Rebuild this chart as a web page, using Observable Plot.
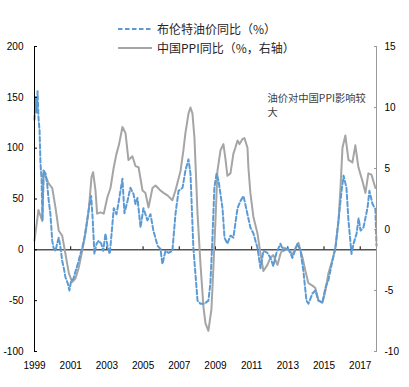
<!DOCTYPE html>
<html><head><meta charset="utf-8">
<script src="https://cdn.jsdelivr.net/npm/d3@7"></script>
<script src="https://cdn.jsdelivr.net/npm/@observablehq/plot@0.6"></script>
<style>
body{margin:0;background:#fff;}
#wrap{position:relative;width:409px;height:387px;overflow:hidden;}
.leg{position:absolute;left:118px;height:16px;display:flex;align-items:center;font-family:"Noto Sans CJK SC",sans-serif;font-size:12px;color:#262626;white-space:nowrap;}
.leg svg{margin-right:5px;}
</style></head>
<body><div id="wrap"></div>
<script>
// Brent crude YoY (%), left axis
const brentT = [1999.00,1999.06,1999.11,1999.17,1999.22,1999.28,1999.33,1999.39,1999.44,1999.50,1999.61,1999.70,1999.77,1999.88,1999.98,2000.05,2000.16,2000.25,2000.34,2000.44,2000.53,2000.62,2000.71,2000.84,2000.93,2001.03,2001.14,2001.27,2001.39,2001.54,2001.64,2001.76,2001.91,2002.04,2002.13,2002.22,2002.31,2002.43,2002.55,2002.69,2002.80,2002.92,2003.05,2003.16,2003.29,2003.38,2003.53,2003.66,2003.75,2003.86,2003.97,2004.14,2004.30,2004.47,2004.58,2004.69,2004.86,2005.02,2005.24,2005.41,2005.57,2005.80,2005.96,2006.07,2006.24,2006.40,2006.62,2006.79,2006.96,2007.18,2007.34,2007.51,2007.62,2007.78,2008.01,2008.17,2008.39,2008.61,2008.72,2008.83,2008.94,2009.06,2009.17,2009.39,2009.50,2009.66,2009.83,2009.99,2010.22,2010.38,2010.55,2010.77,2010.93,2011.10,2011.32,2011.49,2011.65,2011.87,2012.04,2012.20,2012.37,2012.59,2012.76,2012.98,2013.14,2013.25,2013.53,2013.70,2013.86,2014.03,2014.14,2014.36,2014.52,2014.69,2014.91,2015.08,2015.24,2015.46,2015.63,2015.80,2015.97,2016.08,2016.24,2016.35,2016.52,2016.63,2016.80,2016.91,2017.02,2017.18,2017.40,2017.51,2017.68,2017.84,2017.90];
const brentV = [128,150,135,156,130,117,85,70,29,78,75,65,51,35,9,2,-1,6,12,2,-11,-18,-27,-33,-40,-30,-29,-21,-14,-4,2,12,29,45,53,29,-4,6,9,6,-1,16,2,-4,22,41,35,48,58,70,36,48,61,55,45,51,22,41,29,35,19,4,1,-14,-1,-3,-1,35,58,61,78,89,75,2,-50,-53,-53,-50,-33,10,61,75,68,41,12,6,14,12,41,48,53,35,22,16,2,-18,-1,-3,-8,-16,-3,6,-1,2,-3,-8,6,-1,-21,-50,-53,-43,-40,-50,-52,-37,-30,-11,2,29,58,73,61,29,-4,6,16,31,19,22,41,58,45,40,4];
// China PPI YoY (%), right axis
const ppiT = [1999.00,1999.22,1999.43,1999.51,1999.61,1999.77,1999.98,2000.16,2000.34,2000.53,2000.71,2000.90,2001.08,2001.27,2001.45,2001.64,2001.82,2002.00,2002.15,2002.24,2002.37,2002.46,2002.65,2002.83,2003.02,2003.20,2003.38,2003.53,2003.66,2003.86,2004.03,2004.19,2004.41,2004.58,2004.75,2004.97,2005.13,2005.30,2005.52,2005.69,2005.96,2006.13,2006.35,2006.62,2006.79,2007.07,2007.23,2007.34,2007.51,2007.62,2007.73,2007.84,2008.01,2008.17,2008.34,2008.45,2008.61,2008.78,2008.89,2009.00,2009.11,2009.28,2009.44,2009.55,2009.66,2009.83,2009.99,2010.10,2010.22,2010.33,2010.49,2010.60,2010.77,2010.82,2010.93,2011.10,2011.32,2011.49,2011.65,2011.87,2012.04,2012.20,2012.43,2012.59,2012.76,2012.98,2013.14,2013.25,2013.42,2013.59,2013.81,2013.97,2014.14,2014.36,2014.52,2014.69,2014.91,2015.08,2015.24,2015.46,2015.63,2015.80,2015.91,2016.02,2016.18,2016.35,2016.57,2016.73,2016.90,2017.12,2017.29,2017.45,2017.62,2017.84];
const ppiV = [-0.9,1.6,0.7,4.8,4.4,3.8,3.4,1.8,-0.1,-0.5,-2.0,-3.6,-4.3,-4.0,-3.1,-1.7,-0.3,1.6,4.3,4.7,3.2,1.3,1.4,1.3,2.6,3.4,5.1,6.2,6.9,8.4,7.9,5.7,6.0,5.2,5.1,3.2,3.0,1.8,3.4,3.6,3.2,3.0,2.8,2.4,3.2,4.8,6.5,7.9,9.5,10.0,9.5,7.5,1.3,-2.8,-6.4,-7.7,-8.3,-6.5,-3.0,0.7,4.8,6.5,7.0,5.8,4.4,4.6,6.2,6.7,7.3,7.0,7.4,7.5,6.7,5.1,3.0,1.0,-0.3,-2.0,-3.4,-2.9,-2.3,-2.1,-2.9,-2.0,-1.5,-1.6,-1.8,-2.1,-1.5,-1.1,-2.3,-3.4,-4.4,-4.6,-4.8,-5.8,-6.0,-5.0,-3.6,-2.5,-1.5,0.7,3.4,6.7,7.7,5.7,5.5,6.9,5.1,4.0,3.0,4.6,4.5,3.4];

const xDomain = [1999, 2017.9];
const xTicks = [1999,2001,2003,2005,2007,2009,2011,2013,2015,2017];
const leftDomain = [-100, 200];
const leftTicks = [-100,-50,0,50,100,150,200];
const rightDomain = [-10, 15];
const rightTicks = [-10,-5,0,5,10,15];
const seriesNames = ["布伦特油价同比（%）", "中国PPI同比（%，右轴）"];
const noteLines = ["油价对中国PPI影响较", "大"];
const noteAt = {x: 2011.87, y: [148.9, 135.1]};

const blue = "#5b9bd5", gray = "#a5a5a5";
const dash = "4.5,2.5";
// map right-axis values onto the left scale
const k = (leftDomain[1]-leftDomain[0])/(rightDomain[1]-rightDomain[0]);
const toLeft = r => (r - rightDomain[0]) * k + leftDomain[0];

const brent = brentT.map((t,i)=>({t, v: brentV[i]}));
const ppi = ppiT.map((t,i)=>({t, v: ppiV[i]}));

const chart = Plot.plot({
  width: 409, height: 387,
  marginLeft: 34, marginRight: 33, marginTop: 46, marginBottom: 36,
  x: {domain: xDomain, label: null},
  y: {domain: leftDomain, label: null},
  style: {fontFamily: "'Liberation Sans', Arial, sans-serif", fontSize: "10px", color: "#000", background: "transparent"},
  marks: [
    Plot.ruleY([0], {stroke: "#000", strokeWidth: 1}),
    Plot.ruleX(xTicks, {y1: 0, y2: 3, stroke: "#000"}),
    Plot.line(ppi, {x: "t", y: d => toLeft(d.v), stroke: gray, strokeWidth: 2}),
    Plot.line(brent, {x: "t", y: "v", stroke: blue, strokeWidth: 2, strokeDasharray: dash}),
    Plot.ruleX([xDomain[0]], {y1: leftDomain[0], y2: leftDomain[1], stroke: "#000"}),
    Plot.ruleX([xDomain[1]], {y1: leftDomain[0], y2: leftDomain[1], stroke: "#9a9a9a"}),
    Plot.axisY(leftTicks, {anchor: "left", label: null, tickSize: -3, tickPadding: 14, tickFormat: d => String(d), stroke: "#000"}),
    Plot.axisY(rightTicks.map(toLeft), {anchor: "right", label: null, tickSize: -3, tickPadding: 11, stroke: "#9a9a9a", tickFormat: d => String(Math.round((d - leftDomain[0]) / k + rightDomain[0]))}),
    Plot.axisX(xTicks, {anchor: "bottom", label: null, tickSize: 0, tickPadding: 10, tickFormat: d => String(d)}),
    Plot.text(noteLines, {x: noteAt.x, y: (d, i) => noteAt.y[i], text: d => d, textAnchor: "start", lineAnchor: "middle", fontSize: 10.3, fill: "#404040", fontFamily: "'Noto Sans CJK SC', sans-serif"})
  ]
});
const wrap = document.getElementById("wrap");
wrap.appendChild(chart);

function legendRow(top, name, stroke, dashArr) {
  const div = document.createElement("div");
  div.className = "leg";
  div.style.top = (top - 8) + "px";
  div.innerHTML = `<svg width="34" height="4"><line x1="0" y1="2" x2="34" y2="2" stroke="${stroke}" stroke-width="2" ${dashArr ? `stroke-dasharray="${dashArr}"` : ""}/></svg><span>${name}</span>`;
  wrap.appendChild(div);
}
legendRow(28.5, seriesNames[0], blue, dash);
legendRow(47.5, seriesNames[1], gray, null);
</script></body></html>
